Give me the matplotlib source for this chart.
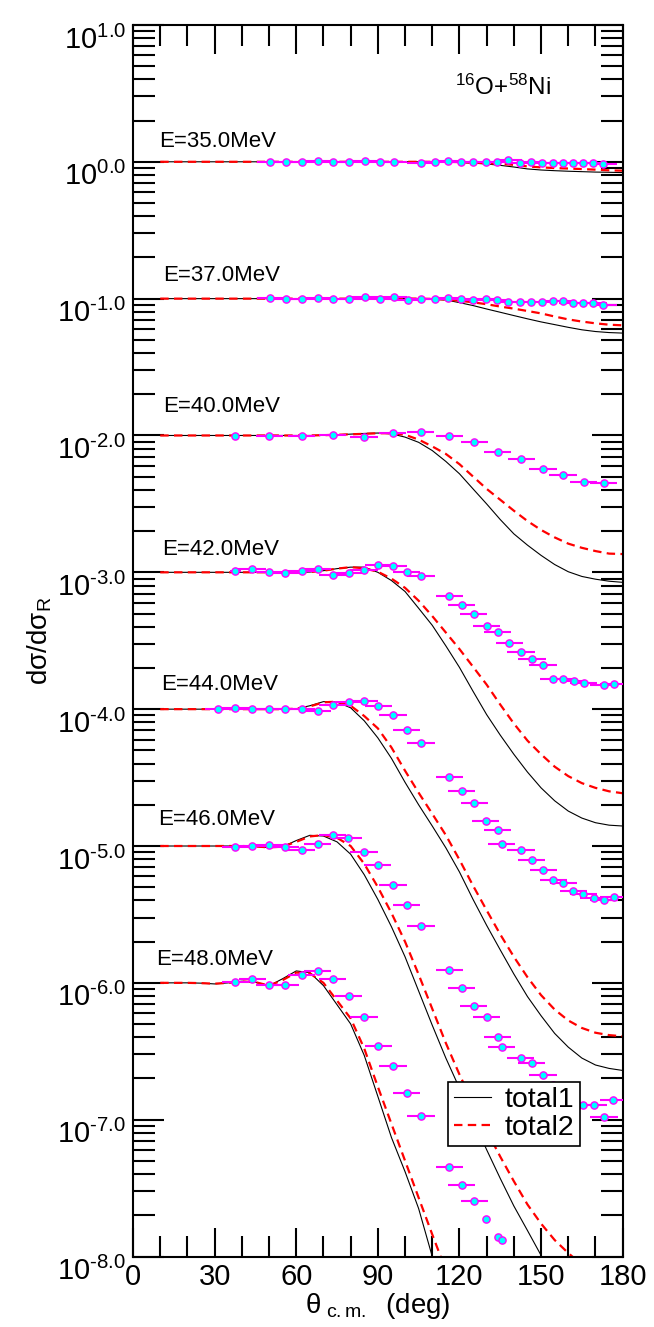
import numpy as np
import matplotlib
matplotlib.use('Agg')
import matplotlib.pyplot as plt
import matplotlib.transforms as mtransforms
from matplotlib.ticker import FixedLocator, FixedFormatter, NullFormatter

plt.rcParams['font.family'] = ['Liberation Sans', 'DejaVu Sans']
plt.rcParams['mathtext.fontset'] = 'custom'
plt.rcParams['mathtext.rm'] = 'Liberation Sans'
plt.rcParams['mathtext.it'] = 'Liberation Sans:italic'
plt.rcParams['mathtext.bf'] = 'Liberation Sans:bold'

energies = ['35.0', '37.0', '40.0', '42.0', '44.0', '46.0', '48.0']
scales = [1e0, 1e-1, 1e-2, 1e-3, 1e-4, 1e-5, 1e-6]

# theory grid (deg)
theta_grid = [10, 20, 25, 30, 35, 40, 45, 50, 55, 60, 65, 70, 75, 80, 85, 90, 95,
              100, 105, 110, 115, 120, 125, 130, 135, 140, 145, 150, 155, 160,
              165, 170, 175, 180]

# total1 / total2, ratio to Rutherford
t1_35 = [1.0, 1.0, 1.0, 1.0, 1.0, 1.0, 1.0, 1.0, 1.0, 1.0, 1.0, 1.0, 1.0, 1.0, 1.0,
         1.0, 1.0, 1.0, 1.0, 1.0, 0.997, 0.989, 0.977, 0.964, 0.942, 0.916, 0.887,
         0.871, 0.861, 0.853, 0.847, 0.841, 0.838, 0.834]
t2_35 = [1.0, 1.0, 1.0, 1.0, 1.0, 1.0, 1.0, 1.0, 1.0, 1.0, 1.0, 1.0, 1.0, 1.0, 1.0,
         1.0, 1.0, 1.0, 1.0, 1.0, 1.0, 0.995, 0.986, 0.977, 0.966, 0.950, 0.925,
         0.910, 0.900, 0.893, 0.885, 0.876, 0.866, 0.861]
t1_37 = [1.0, 1.0, 1.0, 1.0, 1.0, 1.0, 1.0, 1.0, 1.0, 1.0, 1.0, 1.0, 1.0, 1.0, 1.0,
         1.005, 1.005, 1.0, 0.995, 0.990, 0.978, 0.935, 0.890, 0.840, 0.795, 0.752,
         0.712, 0.676, 0.646, 0.617, 0.592, 0.575, 0.565, 0.560]
t2_37 = [1.0, 1.0, 1.0, 1.0, 1.0, 1.0, 1.0, 1.0, 1.0, 1.0, 1.0, 1.0, 1.0, 1.0, 1.0,
         1.005, 1.005, 1.003, 1.0, 0.995, 0.985, 0.965, 0.940, 0.910, 0.875, 0.845,
         0.812, 0.780, 0.740, 0.705, 0.680, 0.660, 0.645, 0.638]
t1_40 = [1.0, 1.0, 1.0, 1.0, 1.0, 1.0, 1.0, 1.0, 1.0, 1.0, 1.0, 1.005, 1.012, 1.023,
         1.035, 1.042, 1.028, 0.973, 0.891, 0.776, 0.646, 0.525, 0.407, 0.316, 0.243,
         0.191, 0.158, 0.133, 0.114, 0.101, 0.0933, 0.0891, 0.0861, 0.0845]
t2_40 = [1.0, 1.0, 1.0, 1.0, 1.0, 1.0, 1.0, 1.0, 1.0, 1.0, 1.0, 1.005, 1.012, 1.020,
         1.028, 1.038, 1.038, 1.012, 0.933, 0.832, 0.733, 0.617, 0.501, 0.407, 0.339,
         0.282, 0.237, 0.204, 0.180, 0.162, 0.151, 0.143, 0.137, 0.136]
t1_42 = [1.0, 1.0, 1.0, 1.0, 1.0, 1.0, 1.0, 1.0, 1.0, 1.0, 1.005, 1.028, 1.064, 1.091,
         1.091, 1.0, 0.871, 0.724, 0.546, 0.410, 0.290, 0.202, 0.135, 0.0912, 0.0646,
         0.0468, 0.0347, 0.0266, 0.0214, 0.0180, 0.0160, 0.0148, 0.0142, 0.0140]
t2_42 = [1.0, 1.0, 1.0, 1.0, 1.0, 1.0, 1.0, 1.0, 1.0, 1.0, 1.005, 1.028, 1.064, 1.091,
         1.070, 1.010, 0.900, 0.770, 0.620, 0.479, 0.363, 0.275, 0.204, 0.151, 0.108,
         0.0785, 0.0589, 0.0468, 0.0380, 0.0324, 0.0288, 0.0266, 0.0251, 0.0243]
t1_44 = [1.0, 1.0, 1.0, 1.0, 1.0, 1.0, 1.0, 1.0, 1.0, 1.007, 1.059, 1.135, 1.127, 1.023,
         0.822, 0.617, 0.437, 0.292, 0.200, 0.140, 0.0970, 0.0646, 0.0407, 0.0263,
         0.0174, 0.0116, 0.00794, 0.00575, 0.00427, 0.00339, 0.00282, 0.00251,
         0.00237, 0.00229]
t2_44 = [1.0, 1.0, 1.0, 1.0, 1.0, 1.0, 1.0, 1.0, 1.0, 1.007, 1.047, 1.122, 1.135, 1.059,
         0.891, 0.724, 0.525, 0.355, 0.245, 0.172, 0.120, 0.0794, 0.0513, 0.0339,
         0.0226, 0.0155, 0.0110, 0.00813, 0.00638, 0.00531, 0.00468, 0.00432,
         0.00415, 0.00407]
t1_46 = [1.0, 1.0, 1.0, 1.0, 1.0, 1.0, 0.993, 0.973, 0.989, 1.096, 1.197, 1.183, 1.072,
         0.871, 0.617, 0.407, 0.257, 0.155, 0.0871, 0.0490, 0.0282, 0.0170, 0.0100,
         0.00603, 0.00372, 0.00234, 0.00155, 0.00102, 0.000708]
t2_46 = [1.0, 1.0, 1.0, 1.0, 1.0, 1.0, 0.993, 0.977, 0.989, 1.072, 1.175, 1.202, 1.148,
         1.0, 0.741, 0.501, 0.324, 0.200, 0.115, 0.0646, 0.0363, 0.0214, 0.0132,
         0.00832, 0.00537, 0.00355, 0.00240, 0.00174, 0.00132, 0.00106, 0.000871]
t1_48 = [1.0, 1.0, 0.995, 0.982, 1.0, 1.028, 1.012, 0.951, 1.072, 1.222, 1.189, 0.955,
         0.692, 0.501, 0.295, 0.148, 0.0741, 0.0417, 0.0224, 0.0100, 0.00501]
t2_48 = [1.0, 1.0, 0.995, 0.986, 1.0, 1.023, 1.012, 0.955, 1.047, 1.189, 1.175, 1.0,
         0.741, 0.550, 0.331, 0.174, 0.0933, 0.0501, 0.0269, 0.0145, 0.00794]

# experimental data
th_35 = [50.4, 56.1, 62.2, 68.1, 73.6, 79.4, 85.2, 90.7, 95.8, 105.7, 110.9, 115.9,
         120.6, 125.1, 129.8, 133.8, 138.0, 142.2, 146.3, 150.5, 154.3, 157.9, 161.7,
         165.4, 169.2, 172.9]
y_35 = [1.003, 0.992, 0.997, 1.008, 0.997, 0.997, 1.014, 0.997, 0.997, 0.986, 0.997,
        1.008, 0.997, 0.997, 0.997, 0.997, 1.031, 0.986, 0.992, 0.981, 0.986, 0.981,
        0.981, 0.981, 0.981, 0.964]
dx_35 = [5, 5, 5, 5, 5, 5, 5, 5, 5, 5, 5, 5, 5, 5, 5, 5, 5, 5, 5, 5, 5, 5, 5, 5, 5, 5]

th_37 = [50.4, 56.1, 62.2, 68.1, 73.6, 79.4, 85.2, 90.7, 95.8, 101.0, 105.7, 110.9,
         115.9, 120.6, 125.1, 129.8, 133.8, 138.0, 142.2, 146.3, 150.5, 154.3, 157.9,
         161.7, 165.4, 169.2, 172.9]
y_37 = [1.006, 0.994, 0.994, 1.017, 0.994, 0.994, 1.023, 0.994, 1.023, 0.972, 0.994,
        0.994, 1.006, 0.994, 0.978, 1.0, 0.978, 0.951, 0.951, 0.951, 0.951, 0.966,
        0.966, 0.935, 0.924, 0.935, 0.894]
dx_37 = [5, 5, 5, 5, 5, 5, 5, 5, 5, 5, 5, 5, 5, 5, 5, 5, 5, 5, 5, 5, 5, 5, 5, 5, 5, 5, 5]

th_40 = [37.6, 50.1, 62.0, 73.4, 84.9, 95.5, 105.8, 116.2, 125.4, 134.1, 142.8, 150.7,
         158.1, 165.6, 173.0]
y_40 = [0.998, 0.991, 0.998, 1.009, 0.975, 1.042, 1.054, 0.998, 0.891, 0.762, 0.673,
        0.573, 0.514, 0.457, 0.450]
dx_40 = [0, 5, 5, 5, 5, 5, 5, 5, 5, 5, 5, 5, 5, 5, 5]

th_42 = [37.6, 43.7, 50.1, 55.9, 62.0, 67.9, 73.4, 79.3, 84.9, 90.1, 95.6, 100.6, 105.9,
         116.3, 120.8, 125.3, 130.0, 134.0, 138.3, 142.6, 146.7, 150.7, 154.5, 158.2,
         162.0, 165.6, 173.1, 176.7]
y_42 = [1.028, 1.058, 1.006, 0.994, 1.023, 1.058, 0.956, 0.994, 1.035, 1.138, 1.112,
        1.011, 0.935, 0.675, 0.574, 0.496, 0.407, 0.368, 0.303, 0.262, 0.232, 0.211,
        0.167, 0.167, 0.160, 0.155, 0.150, 0.154]
dx_42 = [2, 5, 5, 5, 5, 5, 5, 5, 5, 5, 5, 5, 5, 5, 5, 5, 5, 5, 5, 5, 5, 5, 5, 5, 5, 5,
         5, 5]

th_44 = [31.4, 37.6, 43.9, 50.1, 55.9, 62.0, 67.9, 73.4, 79.3, 84.9, 90.1, 95.6, 100.6,
         105.9, 116.3, 120.8, 125.5, 129.7, 134.0, 135.5, 142.6, 146.5, 150.8, 154.5,
         158.2, 161.8, 165.5, 169.4, 173.1, 176.8]
y_44 = [1.003, 1.020, 1.003, 1.003, 1.003, 1.003, 0.964, 1.067, 1.135, 1.148, 1.049,
        0.906, 0.705, 0.563, 0.321, 0.252, 0.205, 0.152, 0.130, 0.104, 0.0935, 0.0791,
        0.0668, 0.0565, 0.0540, 0.0472, 0.0444, 0.0415, 0.0403, 0.0424]
dx_44 = [5, 5, 5, 5, 5, 5, 5, 5, 5, 5, 5, 5, 5, 5, 5, 5, 5, 5, 5, 5, 5, 5, 5, 5, 5, 5,
         5, 5, 5, 5]

th_46 = [37.6, 43.9, 50.1, 55.9, 62.0, 67.9, 73.4, 79.1, 84.9, 89.9, 95.6, 100.6, 105.9,
         116.3, 120.8, 125.3, 130.0, 134.0, 135.5, 142.5, 146.5, 150.7, 154.5, 158.2,
         162.0, 165.5, 169.4, 173.1, 176.5]
y_46 = [0.988, 1.005, 1.021, 0.985, 0.935, 1.040, 1.202, 1.151, 0.904, 0.726, 0.521,
        0.371, 0.260, 0.124, 0.0921, 0.0676, 0.0562, 0.0400, 0.0340, 0.0284, 0.0259,
        0.0211, 0.0180, 0.0150, 0.0130, 0.0128, 0.0127, 0.0105, 0.0140]
dx_46 = [5, 5, 5, 5, 5, 5, 5, 5, 5, 5, 5, 5, 5, 5, 5, 5, 5, 5, 5, 5, 5, 5, 5, 5, 5, 5,
         5, 5, 5]

th_48 = [37.6, 43.9, 50.1, 55.9, 62.0, 67.9, 73.4, 79.3, 84.9, 90.1, 95.6, 100.6, 105.9,
         116.3, 120.8, 125.5, 129.7, 134.2, 135.5]
y_48 = [1.008, 1.060, 0.969, 0.964, 1.146, 1.227, 1.072, 0.805, 0.566, 0.348, 0.247,
        0.156, 0.106, 0.0454, 0.0334, 0.0256, 0.0188, 0.0138, 0.0132]
dx_48 = [5, 5, 5, 5, 5, 5, 5, 5, 5, 5, 5, 5, 5, 5, 5, 5, 0, 0, 0]

# label placement (deg, factor above the decade line)
label_x = [9.6, 11.0, 11.0, 10.7, 10.5, 9.1, 8.5]
label_f = [1.29, 1.35, 1.49, 1.34, 1.38, 1.42, 1.35]

data_th = [th_35, th_37, th_40, th_42, th_44, th_46, th_48]
data_y = [y_35, y_37, y_40, y_42, y_44, y_46, y_48]
data_dx = [dx_35, dx_37, dx_40, dx_42, dx_44, dx_46, dx_48]
tot1 = [t1_35, t1_37, t1_40, t1_42, t1_44, t1_46, t1_48]
tot2 = [t2_35, t2_37, t2_40, t2_42, t2_44, t2_46, t2_48]

fig = plt.figure(figsize=(6.54, 13.27), dpi=100)
ax = fig.add_axes([0.2034, 0.0531, 0.7487, 0.9281])
ax.set_yscale('log')

for i in range(len(energies)):
    s = scales[i]
    t1 = np.array(tot1[i]) * s
    t2 = np.array(tot2[i]) * s
    l1, = ax.plot(theta_grid[:len(t1)], t1, color='black', lw=0.8, zorder=2)
    l2, = ax.plot(theta_grid[:len(t2)], t2, color='red', lw=1.6, dashes=(3.8, 2.4), zorder=2)
    ax.errorbar(data_th[i], np.array(data_y[i]) * s, xerr=data_dx[i], fmt='o', ms=5.2,
                mfc='#00ffff', mec='#ff00ff', mew=1.0, ecolor='#ff00ff',
                elinewidth=1.5, capsize=0, zorder=3)
    ax.text(label_x[i], label_f[i] * s, 'E=' + energies[i] + 'MeV', fontsize=16,
            ha='left', va='baseline')

ax.text(118.4, 3.08, r'$^{16}$O+$^{58}$Ni', fontsize=17.5, ha='left', va='baseline')

ax.set_xlim(0, 180)
ax.set_ylim(1e-8, 10)
ax.xaxis.set_major_locator(FixedLocator([0, 30, 60, 90, 120, 150, 180]))
ax.xaxis.set_minor_locator(FixedLocator([10, 20, 40, 50, 70, 80, 100, 110, 130, 140,
                                         160, 170]))
decades = [-8, -7, -6, -5, -4, -3, -2, -1, 0, 1]
ax.yaxis.set_major_locator(FixedLocator([10.0 ** d for d in decades]))
ylabels = [r'$10^{%s%d.0}$' % ('\u2010' if d < 0 else '', abs(d)) for d in decades]
ax.yaxis.set_major_formatter(FixedFormatter(ylabels))
minors = [m * 10.0 ** d for d in decades[:-1] for m in range(2, 10)]
ax.yaxis.set_minor_locator(FixedLocator(minors))
ax.yaxis.set_minor_formatter(NullFormatter())

ax.tick_params(which='both', direction='in', top=True, right=True, width=1.5,
               labelsize=21)
ax.tick_params(axis='x', which='major', length=21, pad=5)
ax.tick_params(axis='x', which='minor', length=15)
ax.tick_params(axis='y', which='major', length=22, pad=5)
ax.tick_params(axis='y', which='minor', length=16)
for sp in ax.spines.values():
    sp.set_linewidth(1.5)

offset = mtransforms.ScaledTranslation(0, -12 / 100, fig.dpi_scale_trans)
for lab in ax.get_yticklabels():
    lab.set_transform(lab.get_transform() + offset)

ax.set_xlabel(r'θ$_{\mathrm{\ c.m.}}$  (deg)', fontsize=20, labelpad=0)
ax.set_ylabel(r'dσ/dσ$_{\mathrm{R}}$', fontsize=20, labelpad=2)

leg = ax.legend([l1, l2], ['total1', 'total2'], loc='upper left',
                bbox_to_anchor=(0.643, 0.142), fontsize=20.5, handlelength=1.3,
                handletextpad=0.5, borderpad=0.2, labelspacing=0.05,
                fancybox=False, framealpha=1, edgecolor='black', borderaxespad=0)
leg.get_frame().set_linewidth(1.2)
leg.set_zorder(5)

fig.savefig('out.png', dpi=100)
